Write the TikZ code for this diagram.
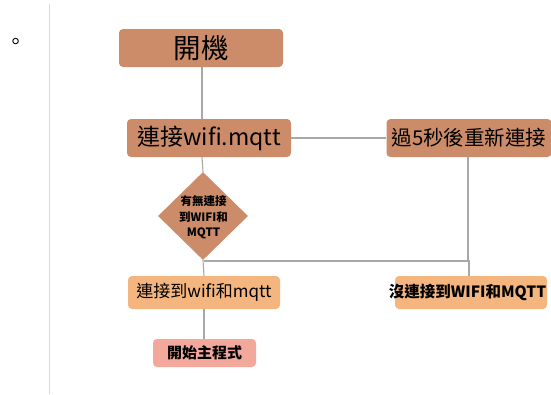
\documentclass[tikz,border=0pt]{standalone}
\usepackage{fontspec}
\setmainfont{Noto Sans CJK TC}
\usetikzlibrary{shapes.geometric}
\definecolor{boxA}{HTML}{CC8C6A}
\definecolor{boxB}{HTML}{F4B57F}
\definecolor{boxC}{HTML}{F2A99B}
\definecolor{conn}{HTML}{A8A8A8}
\definecolor{rule}{HTML}{DADADA}
\tikzset{
  box/.style={rectangle, rounded corners=4pt, inner sep=0pt, draw=none, text=black},
  darkbox/.style={box, fill=boxA},
  lightbox/.style={box, fill=boxB},
  startbox/.style={box, fill=boxC},
  decision/.style={diamond, fill=boxA, inner sep=0pt, minimum width=90pt, minimum height=88pt, aspect=1, align=center},
  link/.style={draw=conn, line width=1.1pt}
}
\begin{document}
\begin{tikzpicture}[x=1pt,y=-1pt]
\useasboundingbox (0,0) rectangle (551,394);
\draw[rule, line width=0.8pt] (49.5,4) -- (49.5,394);
\node[inner sep=0pt] (dot) at (16,44) {\fontsize{21pt}{21pt}\selectfont 。};
% nodes
\node[darkbox, minimum width=164pt, minimum height=38pt] (boot) at (201,48) {\fontsize{27.5pt}{27.5pt}\selectfont 開機};
\node[darkbox, minimum width=164pt, minimum height=38pt] (conn) at (209,138) {\fontsize{23pt}{23pt}\selectfont 連接wifi.mqtt};
\node[darkbox, minimum width=165pt, minimum height=38pt] (retry) at (469,138) {\fontsize{20.5pt}{20.5pt}\selectfont 過5秒後重新連接};
\node[decision] (dec) at (203,216) {};
\node[align=center, inner sep=0pt, font=\fontsize{11.5pt}{15.5pt}\selectfont\bfseries] (dectext) at (203.5,217.5) {有無連接\\到WIFI和\\MQTT};
\node[lightbox, minimum width=152pt, minimum height=33pt] (ok) at (204,292.5) {\fontsize{17pt}{17pt}\selectfont 連接到wifi和mqtt};
\node[lightbox, minimum width=152pt, minimum height=33pt] (fail) at (471,292.5) {};
\node[inner sep=0pt] (failtext) at (467.5,292.5) {\fontsize{15.5pt}{15.5pt}\selectfont\bfseries 沒連接到WIFI和MQTT};
\node[startbox, minimum width=103pt, minimum height=28pt] (main) at (204.5,353) {\fontsize{15pt}{15pt}\selectfont\bfseries 開始主程式};
\coordinate (jl) at (204,261);
\coordinate (jr) at (469,261);
% connectors
\draw[link] (boot.south -| 202,0) -- (conn.north -| 202,0);
\draw[link] (conn.east) -- (retry.west);
\draw[link] (conn.south -| 202,0) -- (dec.north);
\draw[link] (retry.south -| 468,0) -- (468,261) -- (469,261) -- (fail.north -| 469,0);
\draw[link] (dec.south) -- (ok.north -| 204,0);
\draw[link] (jl) -- (jr);
\draw[link] (ok.south -| 204,0) -- (main.north -| 204,0);
\end{tikzpicture}
\end{document}
